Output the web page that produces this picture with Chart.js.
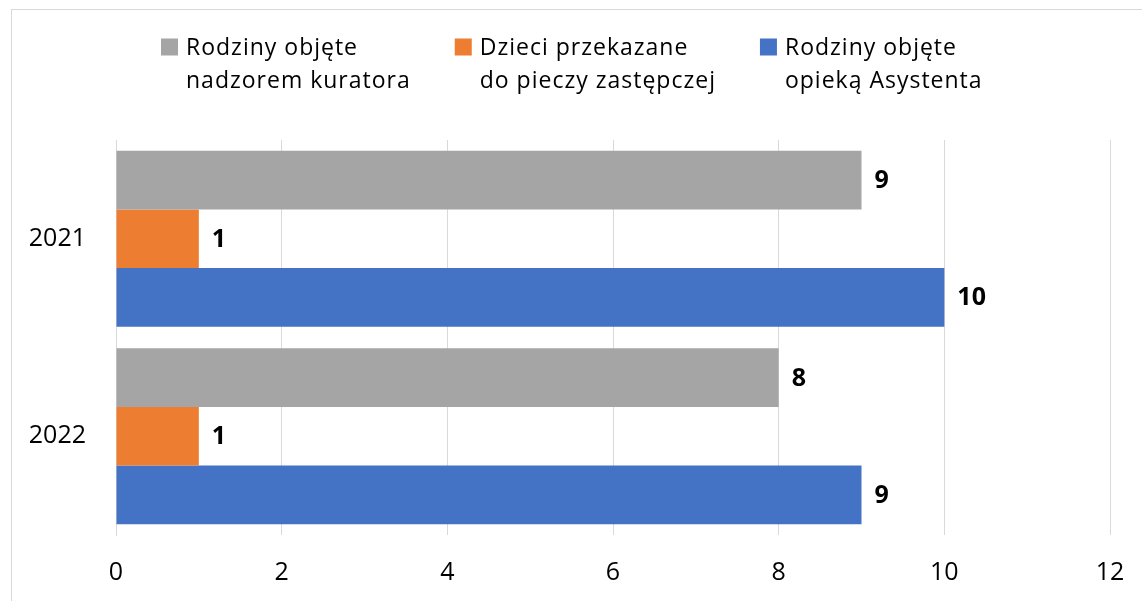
<!DOCTYPE html>
<html lang="pl">
<head>
<meta charset="utf-8">
<title>Rodziny i dzieci 2021–2022</title>
<script src="https://cdn.jsdelivr.net/npm/chart.js@4/dist/chart.umd.min.js"></script>
<style>
  html, body { margin: 0; padding: 0; background: #fff; overflow: hidden; }
  #wrap { position: relative; width: 1142px; height: 601px; }
</style>
</head>
<body>
<div id="wrap"><canvas id="chart" width="1142" height="601"></canvas></div>
<script>
// --- data ---
const years = ['2021', '2022'];
const kuratorValues = [9, 8];     // Rodziny objęte nadzorem kuratora
const pieczaValues = [1, 1];      // Dzieci przekazane do pieczy zastępczej
const asystentValues = [10, 9];   // Rodziny objęte opieką Asystenta
const legendLines = [
    ['Rodziny objęte', 'nadzorem kuratora'],
    ['Dzieci przekazane', 'do pieczy zastępczej'],
    ['Rodziny objęte', 'opieką Asystenta']
];
const axisMax = 12;
const axisStep = 2;

const FONT = '"Open Sans", Lato, sans-serif';
const colors = ['#A5A5A5', '#ED7D31', '#4472C4'];

// frame around the whole chart
const framePlugin = {
    id: 'frame',
    beforeDraw(chart) {
        const ctx = chart.ctx;
        ctx.save();
        ctx.strokeStyle = '#d9d9d9';
        ctx.lineWidth = 1;
        ctx.strokeRect(11.5, 9.5, 1300, 700);
        ctx.restore();
    }
};

// value printed right of each bar
const valueLabels = {
    id: 'valueLabels',
    afterDatasetsDraw(chart) {
        const ctx = chart.ctx;
        ctx.save();
        ctx.font = 'bold 25px ' + FONT;
        ctx.fillStyle = '#000';
        ctx.textAlign = 'left';
        ctx.textBaseline = 'middle';
        chart.data.datasets.forEach((ds, i) => {
            chart.getDatasetMeta(i).data.forEach((bar, j) => {
                ctx.fillText(String(ds.data[j]), bar.x + 13, bar.y + 1);
            });
        });
        ctx.restore();
    }
};

// two-line legend across the top
const topLegend = {
    id: 'topLegend',
    afterDraw(chart) {
        const ctx = chart.ctx;
        const box = 17, boxGap = 8, itemGap = 44, lineH = 33, firstY = 47;
        ctx.save();
        ctx.font = '23px ' + FONT;
        ctx.letterSpacing = '1px';
        ctx.textBaseline = 'middle';
        const widths = legendLines.map(lines =>
            box + boxGap + Math.max(...lines.map(l => ctx.measureText(l).width)));
        const total = widths.reduce((a, b) => a + b, 0) + itemGap * (widths.length - 1);
        let x = Math.round(572 - total / 2);
        legendLines.forEach((lines, i) => {
            ctx.fillStyle = chart.data.datasets[i].backgroundColor;
            ctx.fillRect(x, firstY - box / 2, box, box);
            ctx.fillStyle = '#000';
            lines.forEach((l, k) => ctx.fillText(l, x + box + boxGap, firstY + 1 + k * lineH));
            x += widths[i] + itemGap;
        });
        ctx.restore();
    }
};

const chart = new Chart(document.getElementById('chart'), {
    type: 'bar',
    data: {
        labels: years,
        datasets: [
            { label: legendLines[0].join(' '), data: kuratorValues, backgroundColor: colors[0] },
            { label: legendLines[1].join(' '), data: pieczaValues, backgroundColor: colors[1] },
            { label: legendLines[2].join(' '), data: asystentValues, backgroundColor: colors[2] }
        ]
    },
    options: {
        indexAxis: 'y',
        responsive: false,
        animation: false,
        categoryPercentage: 0.89,
        barPercentage: 1.0,
        layout: { padding: { top: 140, right: 32, left: 0, bottom: 0 } },
        plugins: {
            legend: { display: false },
            tooltip: { enabled: false }
        },
        scales: {
            x: {
                min: 0,
                max: axisMax,
                // invisible tick marks push the labels down without widening the side padding
                ticks: { stepSize: axisStep, padding: 0, color: '#000', font: { family: FONT, size: 25 } },
                grid: { color: '#d9d9d9', drawTicks: true, tickLength: 23, tickColor: 'rgba(0,0,0,0)' },
                border: { display: false },
                afterFit(scale) { scale.height = 66; }
            },
            y: {
                ticks: { padding: 30, color: '#000', font: { family: FONT, size: 25 } },
                grid: { display: false, drawTicks: false },
                border: { display: true, color: '#d9d9d9' },
                afterFit(scale) { scale.width = 116; }
            }
        }
    },
    plugins: [framePlugin, valueLabels, topLegend]
});
</script>
</body>
</html>
